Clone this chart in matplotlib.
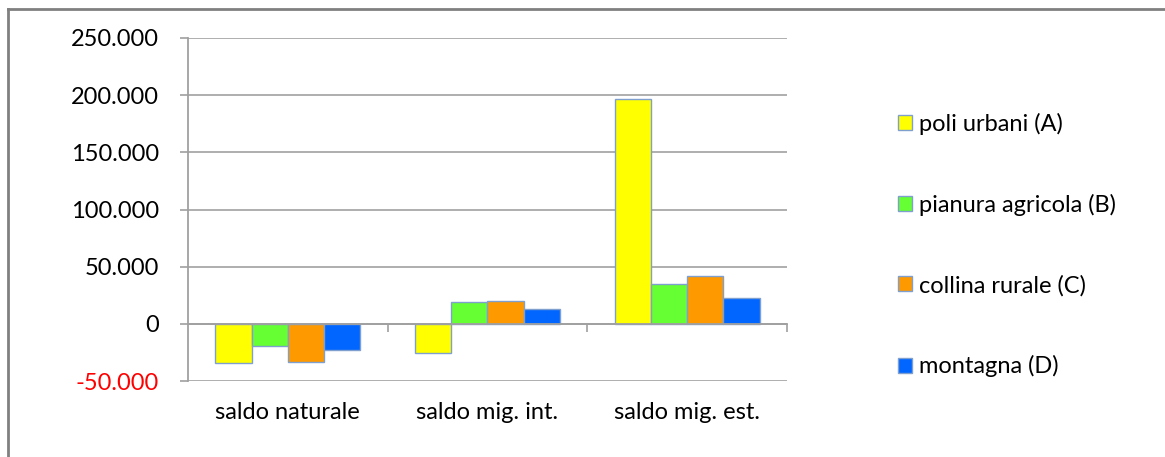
import numpy as np
import matplotlib
matplotlib.use('Agg')
import matplotlib.pyplot as plt
from matplotlib.ticker import FuncFormatter
from matplotlib.lines import Line2D
from matplotlib.patches import Patch

plt.rcParams['font.family'] = ['Lato', 'DejaVu Sans']

# --- dati ---
categories = ['saldo naturale', 'saldo mig. int.', 'saldo mig. est.']
series_names = ['poli urbani (A)', 'pianura agricola (B)', 'collina rurale (C)', 'montagna (D)']
poli_urbani = [-34400, -25900, 196500]
pianura_agricola = [-19500, 18700, 34700]
collina_rurale = [-33200, 19800, 41400]
montagna = [-22700, 12600, 22200]
y_ticks = [-50000, 0, 50000, 100000, 150000, 200000, 250000]

colors = ['#FFFF00', '#66FF33', '#FF9900', '#0066FF']
edge = '#7F9FCF'
fs = 17

fig = plt.figure(figsize=(11.65, 4.57), dpi=100)
ax = fig.add_axes([188 / 1165, 1 - 381 / 457, 599 / 1165, 343 / 457])

x = np.arange(len(categories))
w = 1 / 5.5
all_series = [poli_urbani, pianura_agricola, collina_rurale, montagna]
for i, vals in enumerate(all_series):
    ax.bar(x + (i - 1.5) * w, vals, w, color=colors[i], edgecolor=edge,
           linewidth=1, label=series_names[i], zorder=3)

ax.set_xlim(-0.5, 2.5)
ax.set_ylim(y_ticks[0], y_ticks[-1])
ax.set_yticks(y_ticks)
ax.yaxis.set_major_formatter(FuncFormatter(lambda v, p: f"{int(v):,}".replace(',', '.')))
ax.tick_params(axis='y', length=6, width=1.2, color='#A0A0A0', pad=15, labelsize=fs)
for lbl, v in zip(ax.get_yticklabels(), y_ticks):
    lbl.set_color('red' if v < 0 else 'black')
ax.grid(True, axis='y', color='#A8A8A8', linewidth=1.3, zorder=0)

for s in ['top', 'right']:
    ax.spines[s].set_visible(False)
ax.spines['left'].set_color('#A0A0A0')
ax.spines['left'].set_linewidth(1.3)
# asse categorie sullo zero
ax.spines['bottom'].set_position(('data', 0))
ax.spines['bottom'].set_color('#A0A0A0')
ax.spines['bottom'].set_linewidth(1.3)
ax.spines['bottom'].set_zorder(4)
ax.set_xticks([0.5, 1.5, 2.5])
ax.tick_params(axis='x', length=6, width=1.2, color='#A0A0A0', labelbottom=False)

sec = ax.secondary_xaxis('bottom')
sec.set_xticks(x)
sec.set_xticklabels(categories)
sec.tick_params(length=0, pad=15, labelsize=fs)
sec.spines['bottom'].set_visible(False)

handles = [Patch(facecolor=c, edgecolor=edge, linewidth=1) for c in colors]
fig.legend(handles, series_names, loc='center left', bbox_to_anchor=(886 / 1165, 1 - 245 / 457),
           frameon=False, fontsize=fs, handlelength=0.6, handleheight=0.6,
           handletextpad=0.3, labelspacing=2.5, borderpad=0)

# cornice esterna del grafico
fig.add_artist(Line2D([8 / 1165, 8 / 1165], [0, 1 - 9 / 457], color='#808080', linewidth=2))
fig.add_artist(Line2D([8 / 1165, 1], [1 - 9 / 457, 1 - 9 / 457], color='#808080', linewidth=2))

fig.savefig('out.png', dpi=100)
